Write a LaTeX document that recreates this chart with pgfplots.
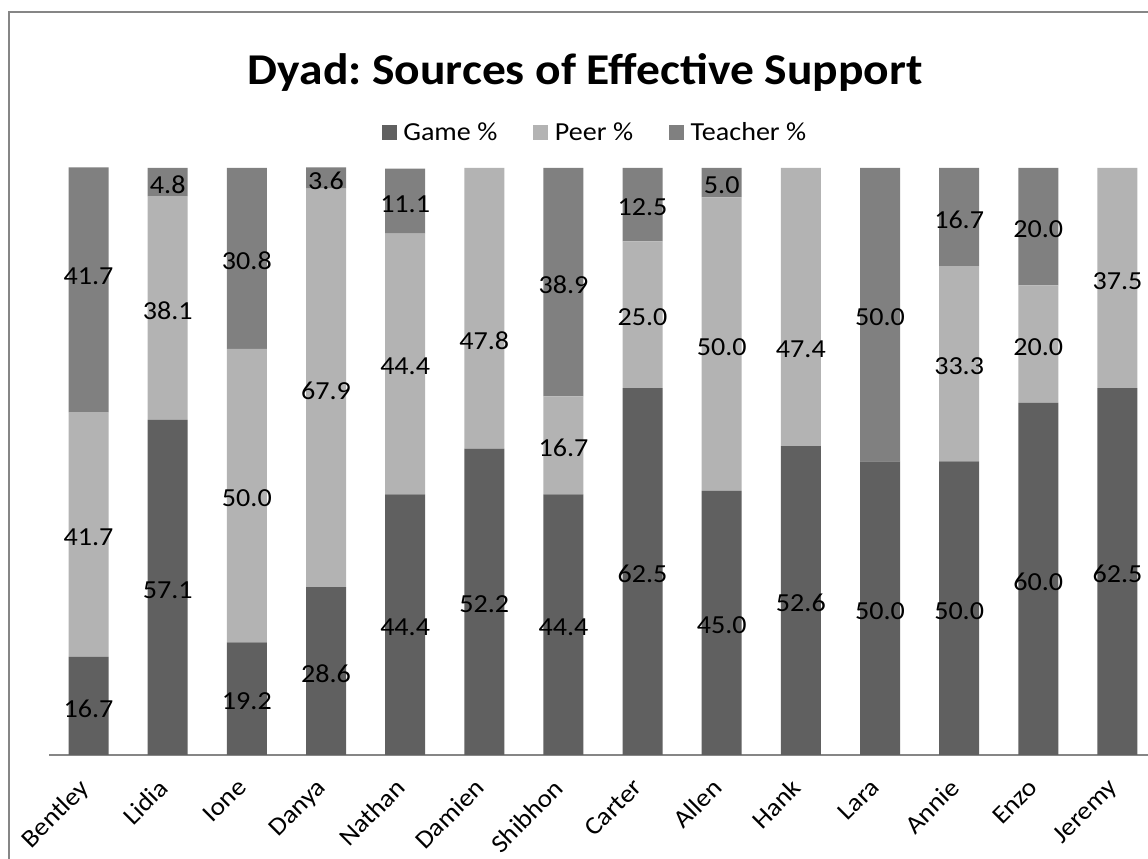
\documentclass[border=0pt]{standalone}
\usepackage{pgfplots}
\pgfplotsset{compat=1.18}
\usepackage{pgfplotstable}
\usepackage{fontspec}
\setmainfont{Carlito}[FakeStretch=1.08]
\definecolor{cgame}{RGB}{96,96,96}
\definecolor{cpeer}{RGB}{179,179,179}
\definecolor{cteach}{RGB}{128,128,128}
\definecolor{cborder}{RGB}{134,134,134}
\definecolor{caxis}{RGB}{134,134,134}

% goff/poff/toff: small vertical shifts of the value labels (percent units)
\pgfplotstableread{
idx game peer teacher goff poff toff
0 16.7 41.7 41.7 0 0 2.7
1 57.1 38.1 4.8 0 0 0
2 19.2 50.0 30.8 0 0 0
3 28.6 67.9 3.6 0 0 0
4 44.4 44.4 11.1 0 0 0
5 52.2 47.8 0 0 -5.1 0
6 44.4 16.7 38.9 0 0 0
7 62.5 25.0 12.5 0 0 0
8 45.0 50.0 5.0 0 0 0
9 52.6 47.4 0 0 -6.8 0
10 50.0 0 50.0 0 0 0
11 50.0 33.3 16.7 0 0 0
12 60.0 20.0 20.0 0 0 0
13 62.5 37.5 0 0 0 0
}\datatab

\newcommand{\lblfont}{\fontsize{19.5}{23}\selectfont}

\begin{document}
\frenchspacing
\begin{tikzpicture}
\useasboundingbox (0,0) rectangle (861pt,644.25pt);
\clip (0,0) rectangle (861pt,644.25pt);
\fill[white] (0,0) rectangle (861pt,644.25pt);
\draw[cborder, line width=1.5pt] (6.75pt,635.25pt) rectangle (900pt,-20pt);

\begin{axis}[
  at={(36.75pt,78pt)}, anchor=south west,
  scale only axis, width=831pt, height=440.25pt,
  xmin=-0.5, xmax=13.5, ymin=0, ymax=100,
  ybar stacked, bar width=30pt,
  axis x line*=bottom, axis y line=none,
  x axis line style={caxis, line width=1.5pt, -},
  ytick=\empty,
  xtick={0,...,13},
  xticklabels={Bentley,Lidia,Ione,Danya,Nathan,Damien,Shibhon,Carter,Allen,Hank,Lara,Annie,Enzo,Jeremy},
  major tick length=0pt,
  xticklabel style={xshift=-8pt, yshift=-16.5pt, rotate=45, anchor=north east, font=\fontsize{19}{23}\selectfont, inner sep=0pt},
  title={Dyad: Sources of Effective Support},
  title style={at={(0.484,1.128)}, anchor=base, font=\fontsize{33}{40}\selectfont\bfseries},
  legend columns=3,
  legend style={at={(0.493,1.06)}, anchor=center, draw=none, fill=none, font=\lblfont,
    /tikz/every odd column/.append style={column sep=3pt},
    /tikz/every even column/.append style={column sep=25pt},
    inner sep=0pt},
  legend image code/.code={\fill[#1] (0pt,-5.6pt) rectangle (11.25pt,5.6pt);},
]
\addplot[fill=cgame, draw=none] table[x=idx, y=game] {\datatab};
\addplot[fill=cpeer, draw=none] table[x=idx, y=peer] {\datatab};
\addplot[fill=cteach, draw=none] table[x=idx, y=teacher] {\datatab};
\legend{Game \%, Peer \%, Teacher \%}
\end{axis}

\begin{axis}[
  at={(36.75pt,78pt)}, anchor=south west,
  scale only axis, width=831pt, height=440.25pt,
  xmin=-0.5, xmax=13.5, ymin=0, ymax=100,
  hide axis, clip=false,
  /pgf/number format/assume math mode=true,
  nodes near coords={\pgfmathfloatifflags{\pgfplotspointmeta}{0}{}{\pgfmathprintnumber[fixed,fixed zerofill,precision=1]{\pgfplotspointmeta}}},
  every node near coord/.append style={anchor=center, font=\lblfont, text=black, inner sep=0pt, yshift=-2pt},
]
\addplot[draw=none, mark=none, point meta=explicit] table[x=idx, y expr=\thisrow{game}/2+\thisrow{goff}, meta=game] {\datatab};
\addplot[draw=none, mark=none, point meta=explicit] table[x=idx, y expr=\thisrow{game}+\thisrow{peer}/2+\thisrow{poff}, meta=peer] {\datatab};
\addplot[draw=none, mark=none, point meta=explicit] table[x=idx, y expr=\thisrow{game}+\thisrow{peer}+\thisrow{teacher}/2+\thisrow{toff}, meta=teacher] {\datatab};
\end{axis}
\end{tikzpicture}
\end{document}
